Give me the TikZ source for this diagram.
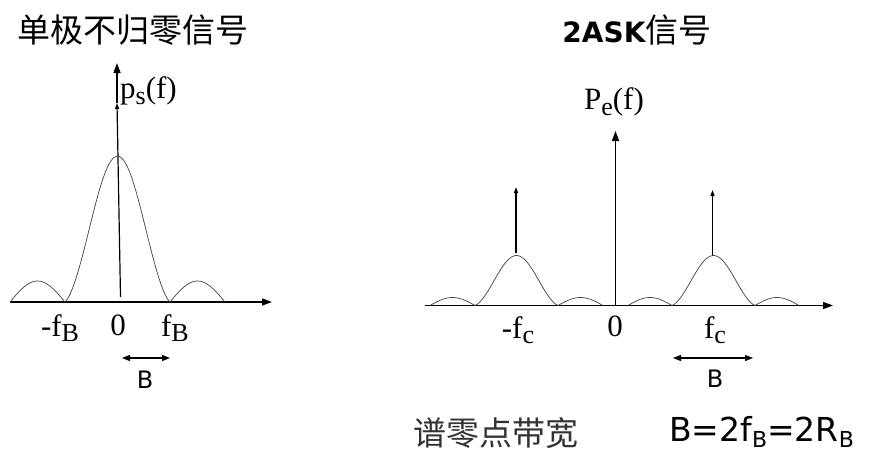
\documentclass[tikz,border=0pt]{standalone}
\usepackage{fontspec}
\setmainfont{Liberation Serif}
\newfontfamily\cjk{Noto Sans CJK SC}
\newfontfamily\tah{DejaVu Sans}
\usetikzlibrary{arrows.meta, positioning, calc}
\newcommand\sub[2][26]{\raisebox{-5.5pt}{\fontsize{#1}{#1}\selectfont #2}}

\begin{document}
\begin{tikzpicture}[x=1pt, y=-1pt, >=Triangle,
    axis/.style={line width=1.3pt, -{Triangle[length=10pt, width=7pt]}},
    impulse/.style={line width=1.2pt, -{Triangle[length=6pt, width=4pt]}},
    lobe/.style={line width=0.7pt, black!75},
    span/.style={line width=1.2pt, {Triangle[length=8pt, width=6pt]}-{Triangle[length=8pt, width=6pt]}},
    lbl/.style={font=\fontsize{31}{33}\selectfont, inner sep=1pt},
    sanslbl/.style={font=\tah\fontsize{24}{26}\selectfont, inner sep=1pt},
    title/.style={font=\cjk\fontsize{33}{36}\selectfont, inner sep=0pt}]
  \useasboundingbox (0,0) rectangle (879,463);

  % left: unipolar NRZ spectrum
  \node[title] (tleft) at (133,30) {单极不归零信号};
  \coordinate (xl1) at (10,302);
  \coordinate (xr1) at (272,302);
  \coordinate (top1) at (117,103);
  \draw[axis] (xl1) -- (xr1);
  \draw[axis] (top1) -- (117,63);
  \draw[impulse] (120.5,297) -- (top1);
  \foreach \a/\b/\h in {10/65/21, 170/225/21}
    \draw[lobe] plot[domain=0:1, samples=30] ({\a+(\b-\a)*\x},{302-\h*sin(180*\x)});
  \draw[lobe] plot[domain=-1:1, samples=40]
    ({117.5+52.5*\x},{302-146*(sin(180*\x)/(3.14159*\x))^1.3});
  \node[lbl, anchor=west] (ps) at (119,91) {p\sub{s}(f)};
  \node[lbl] (nfb) at (60,328) {-f\sub{B}};
  \node[lbl] (zero1) at (118,325) {0};
  \node[lbl] (fb) at (175,328) {f\sub{B}};
  \coordinate (b1l) at (122,358);
  \coordinate (b1r) at (170,358);
  \draw[span] (b1l) -- (b1r);
  \node[sanslbl] (bl) at (145,380) {B};

  % right: 2ASK spectrum
  \node[inner sep=0pt] (tright) at (637,30)
    {{\tah\bfseries\fontsize{28}{32}\selectfont 2ASK}{\cjk\fontsize{33}{36}\selectfont 信号}};
  \coordinate (o2) at (615.5,305.5);
  \coordinate (xl2) at (425,305.5);
  \coordinate (xr2) at (833,305.5);
  \draw[axis] (xl2) -- (xr2);
  \draw[axis] (o2) -- (615.5,131);
  \draw[impulse] (516,253) -- (516,187);
  \draw[impulse] (712.5,256) -- (712.5,190);
  \foreach \a/\b/\h in {430/475/8, 558/603/8, 628/672/8, 755/799/8}
    \draw[lobe] plot[domain=0:1, samples=30] ({\a+(\b-\a)*\x},{305.5-\h*sin(180*\x)});
  \foreach \c in {516.5, 713.5}
    \draw[lobe] plot[domain=-1:1, samples=40]
      ({\c+41.5*\x},{305.5-50*(sin(180*\x)/(3.14159*\x))^1.3});
  \node[lbl] (pe) at (614,102) {P\sub{e}(f)};
  \node[lbl] (nfc) at (518,330) {-f\sub{c}};
  \node[lbl] (zero2) at (615,326) {0};
  \node[lbl] (fc) at (715,330) {f\sub{c}};
  \coordinate (b2l) at (673,358);
  \coordinate (b2r) at (753,358);
  \draw[span] (b2l) -- (b2r);
  \node[sanslbl] (br) at (715,379) {B};

  % bottom line
  \node[title, text=black!80] (zbw) at (496,433) {谱零点带宽};
  \node[font=\tah\fontsize{33}{35}\selectfont, inner sep=0pt, anchor=west] (formula) at (669,432)
    {B=2f\sub[22]{B}=2R\sub[22]{B}};
\end{tikzpicture}
\end{document}
